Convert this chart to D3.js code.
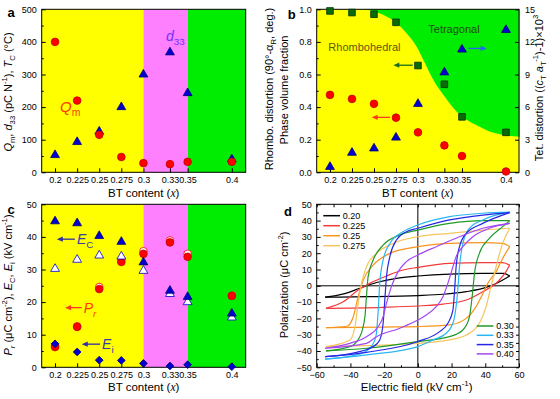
<!DOCTYPE html>
<html>
<head>
<meta charset="utf-8">
<script src="https://cdn.jsdelivr.net/npm/d3@7"></script>
<style>
  body { margin: 0; background: #fff; }
  text { font-family: "Liberation Sans", Arial, sans-serif; }
</style>
</head>
<body>
<script>
// composition axis (BT content)
const btContent = [0.2, 0.225, 0.25, 0.275, 0.3, 0.33, 0.35, 0.4];
const btTickLabels = ["0.2", "0.225", "0.25", "0.275", "0.3", "0.33", "0.35", "0.4"];
const phaseEdges = [0.3, 0.35];

// panel a
const qm = [400, 220, 115, 47, 28, 25, 32, 32];
const d33 = [53, 93, 125, 200, 300, 368, 243, 40];

// panel b
const rhomboFraction = [0.99, 0.98, 0.97, 0.92, 0.655, 0.54, 0.34, 0.245];
const rhomboDistortion = [0.475, 0.45, 0.42, 0.335, 0.245, 0.165, 0.10, 0.005];
const tetDistortion = [0.5, 1.8, 2.2, 3.2, 6.3, 9.2, 11.3, 13.1];
const phaseBoundary = [[0.236, 1.0], [0.25, 0.988], [0.261, 0.965], [0.276, 0.914], [0.287, 0.853],
  [0.2985, 0.771], [0.308, 0.669], [0.3175, 0.566], [0.329, 0.474], [0.344, 0.372],
  [0.359, 0.31], [0.37, 0.28], [0.384, 0.245], [0.393, 0.233], [0.4155, 0.218]];

// panel c
const ecPos = [44.8, 44.2, 40.3, 38.5, 32.2, 23.5, 21.6, 16.5];
const ecNeg = [30.2, 33.0, 34.3, 34.0, 29.6, 22.5, 20.0, 15.3];
const prFilled = [6.2, 12.4, 24.0, 32.3, 34.8, 38.3, 33.9, 21.9];
const prOpen = [6.6, 12.6, 24.6, 33.0, 35.6, 38.9, 34.8, 22.0];
const ei = [7.2, 4.7, 2.2, 2.1, 1.2, 0.4, 0.8, 0.2];

// panel d, P-E loops [E (kV/cm), P (uC/cm2)]
const upper020 = [[-55,-7],[-44,-5],[-34.4,-1.5],[-24.5,2],[-12.7,4.6],[0,6],[18.8,7.2],[38.5,7.6],[51,7.6],[54.5,6]];
const lower020 = [[-55,-7],[-30,-6.7],[0,-6],[15,-5.2],[28.7,-3.6],[40.5,-1],[47.4,1.9],[54.5,6]];
const upper0225 = [[-54.5,-13.8],[-44,-9.7],[-35.4,-2.6],[-28.5,1.5],[-18.6,6],[-8.8,9.7],[0,11.3],[18.8,13.8],[38.5,14.2],[50.3,14.2],[54.5,12.7]];
const lower0225 = [[-54.5,-13.8],[-20.6,-13.2],[0,-12.4],[15,-11.2],[28.7,-8.7],[38.5,-3.6],[47.4,2.5],[52.3,8.7],[54.5,12.7]];
const upper025 = [[-54.5,-25.7],[-42,-24.8],[-38.3,-19],[-35.4,-6.7],[-32.4,3.5],[-26.5,12.7],[-16.6,19.9],[0,24],[18.8,26],[38.5,26.5],[50.3,26],[54.5,24]];
const lower025 = [[-54.5,-25.7],[-20,-25.3],[0,-25],[18.8,-24],[28.7,-20],[35,-12],[38.5,-5],[41.5,1.5],[46.4,8.7],[50.3,16.8],[54.5,24]];
const upper0275 = [[-54.5,-37.3],[-40.3,-33.2],[-37.3,-25],[-35.4,-10.8],[-33.4,1.5],[-30.5,11.7],[-24.5,19.9],[-14.7,26],[0,30.1],[18.8,32.2],[38.5,34.2],[54.5,35.3]];
const lower0275 = [[-54.5,-37.3],[-30.5,-36.7],[0,-35.3],[18.8,-33.2],[28.7,-30.2],[36.5,-23],[40.5,-12.8],[43.4,-0.5],[46.4,11.7],[50.3,26],[54.5,35.3]];
const upper030 = [[-54.5,-39.9],[-40.3,-37.3],[-34.4,-31.2],[-31.4,-19],[-30.5,-6.7],[-29.5,5.6],[-26.5,15.8],[-20.6,25],[-10.7,31.2],[0,34.2],[18.8,38.3],[38.5,40],[54.5,40]];
const lower030 = [[-54.5,-39.9],[-30.5,-38.3],[0,-34.2],[18.8,-31.2],[26.7,-27.1],[30.6,-19],[32.2,-6.7],[33.6,7.6],[36.5,19.9],[42.4,29.1],[50.3,36.3],[54.5,40]];
const upper033 = [[-55,-45],[-36.4,-42.4],[-28.5,-38.3],[-24.9,-31.2],[-23.5,-14.9],[-22.6,1.5],[-20.6,15.8],[-16.6,26],[-8.8,33.2],[0,37.3],[18.8,42.4],[38.5,44.5],[54.5,45.2]];
const lower033 = [[-55,-45],[-30.5,-42.4],[0,-37.3],[9,-33.2],[16.8,-29.1],[20.8,-23],[22.4,-14.9],[23.7,-2.6],[24.7,11.7],[26.7,26],[30.6,35.3],[38.5,40.4],[54.5,45.2]];
const upper035 = [[-55,-43.5],[-36.4,-40.8],[-26.5,-37.3],[-22.6,-33.2],[-20.6,-23],[-19.6,-8.7],[-18.6,5.6],[-16.6,17.9],[-12.7,28.1],[-6.8,33.2],[0,35.3],[18.8,40.4],[38.5,43.4],[54.5,44.9]];
const lower035 = [[-55,-43.5],[-30.5,-40.8],[0,-34.2],[12.9,-28.1],[17.8,-23],[20.8,-14.9],[21.8,-2.6],[22.7,11.7],[24.7,24],[28.7,32.2],[38.5,38.3],[54.5,44.9]];
const upper040 = [[-55,-38.3],[-40.3,-35.3],[-30.5,-31.2],[-23.5,-25],[-20.6,-19],[-18.6,-10.8],[-15.7,-0.5],[-11.7,8.7],[-6.8,14.8],[0,18.9],[10.9,24],[24.7,30.1],[38.5,35.3],[54.5,38.3]];
const lower040 = [[-55,-38.3],[-30.5,-35.3],[-24.5,-31.2],[-10.7,-26],[0,-21],[5,-17.9],[10.9,-12.8],[14.9,-6.7],[17.8,1.5],[20.8,11.7],[22.7,17.9],[26.7,24],[32.6,30.1],[42.4,35.3],[54.5,38.3]];

const loopLabels = ["0.20", "0.225", "0.25", "0.275", "0.30", "0.33", "0.35", "0.40"];
const loopColors = ["#000000", "#f23a3a", "#f7941d", "#f5c55e", "#1f9a2a", "#2ab6f5", "#2626e6", "#a347f5"];
const loops = [
  [upper020, lower020], [upper0225, lower0225], [upper025, lower025], [upper0275, lower0275],
  [upper030, lower030], [upper033, lower033], [upper035, lower035], [upper040, lower040]
];

const yellow = "#ffff00", pink = "#ff80ff", green = "#00ec00";
const redFill = "#ff0000", blueFill = "#0000d0";

const svg = d3.select("body").append("svg").attr("width", 560).attr("height", 399);

const colL = [41.7, 245.7], colR = [316.7, 519];
const rowT = [172.3, 9.3], rowB = [367.3, 204.3];
const btDomain = [0.1849, 0.4157];

// text with sub/superscripts: kinds i=italic, b=sub, p=sup, s=serif
function rich(t, parts, fs) {
  let cur = 0;
  parts.forEach(([s, k = ""]) => {
    const off = k.includes("b") ? fs * 0.3 : k.includes("p") ? -fs * 0.42 : 0;
    const ts = t.append("tspan").text(s).attr("dy", off - cur);
    if (off !== 0) ts.attr("font-size", fs * 0.7);
    if (k.includes("i")) ts.attr("font-style", "italic");
    if (k.includes("s")) ts.attr("font-family", "'Liberation Serif', serif");
    cur = off;
  });
  return t;
}

function label(x, y, parts, fs, opts = {}) {
  const t = svg.append("text")
    .attr("font-size", fs)
    .attr("fill", opts.color || "#000")
    .attr("text-anchor", opts.anchor || "middle")
    .attr("transform", `translate(${x},${y})` + (opts.rotate ? ` rotate(${opts.rotate})` : ""));
  if (opts.bold) t.attr("font-weight", "bold");
  return rich(t, parts, fs);
}

function styleAxis(g) {
  g.select(".domain").remove();
  g.selectAll("text").attr("font-size", 9).attr("font-family", "'Liberation Sans', Arial, sans-serif");
  g.selectAll("line").attr("stroke", "#000");
}

function frame(g, x, y) {
  g.append("rect")
    .attr("x", x.range()[0]).attr("y", y.range()[1])
    .attr("width", x.range()[1] - x.range()[0])
    .attr("height", y.range()[0] - y.range()[1])
    .attr("fill", "none").attr("stroke", "#000").attr("stroke-width", 1);
}

function bands(g, x, y) {
  const edges = [btDomain[0], ...phaseEdges, btDomain[1]];
  const cols = [yellow, pink, green];
  g.selectAll(null).data(cols).enter().append("rect")
    .attr("x", (d, i) => x(edges[i]))
    .attr("width", (d, i) => x(edges[i + 1]) - x(edges[i]))
    .attr("y", y.range()[1])
    .attr("height", y.range()[0] - y.range()[1])
    .attr("fill", d => d);
}

function btAxis(g, x, y) {
  g.append("g").attr("transform", `translate(0,${y.range()[0]})`)
    .call(d3.axisBottom(x).tickValues(btContent).tickFormat((d, i) => btTickLabels[i])
      .tickSize(-4).tickPadding(4))
    .call(styleAxis);
}

function leftAxis(g, x, y, ticks, minor, fmt) {
  g.append("g").attr("transform", `translate(${x.range()[0]},0)`)
    .call(d3.axisLeft(y).tickValues(ticks).tickFormat(fmt).tickSize(-4).tickPadding(5))
    .call(styleAxis);
  g.append("g").attr("transform", `translate(${x.range()[0]},0)`)
    .call(d3.axisLeft(y).tickValues(minor).tickFormat("").tickSize(-2))
    .call(styleAxis);
}

const sym = (type, size) => d3.symbol().type(type).size(size)();

function markers(g, x, y, xs, ys, type, size, fill, stroke, rot = 0) {
  g.selectAll(null).data(xs).enter().append("path")
    .attr("d", sym(type, size))
    .attr("transform", (d, i) => `translate(${x(d)},${y(ys[i])}) rotate(${rot})`)
    .attr("fill", fill).attr("stroke", stroke).attr("stroke-width", 0.8);
}

function arrow(g, x1, x2, y, color) {
  const dir = Math.sign(x2 - x1);
  g.append("line").attr("x1", x1).attr("x2", x2 - dir * 4).attr("y1", y).attr("y2", y)
    .attr("stroke", color).attr("stroke-width", 1.3);
  g.append("path")
    .attr("d", `M${x2},${y}L${x2 - dir * 6},${y - 2.6}L${x2 - dir * 6},${y + 2.6}Z`)
    .attr("fill", color);
}

// ---------- panel a ----------
{
  const g = svg.append("g");
  const x = d3.scaleLinear().domain(btDomain).range(colL);
  const y = d3.scaleLinear().domain([0, 500]).range(rowT);
  bands(g, x, y);
  btAxis(g, x, y);
  leftAxis(g, x, y, d3.range(0, 501, 100), d3.range(50, 500, 100), d3.format("d"));
  frame(g, x, y);
  markers(g, x, y, btContent, d33, d3.symbolTriangle, 34, blueFill, "#00007a");
  markers(g, x, y, btContent, qm, d3.symbolCircle, 46, redFill, "#c00000");
  label(x(0.2057), y(201) + 5, [["Q", "i"], ["m", "b"]], 15, { color: "#ff3a00", anchor: "start" });
  label(x(0.3254), y(419) + 5, [["d", "i"], ["33", "b"]], 14, { color: "#6a32ff", anchor: "start" });
  label(11, 17, [["a"]], 13, { bold: true });
  label(12, 92, [["Q", "i"], ["m", "b"], [", "], ["d", "i"], ["33", "b"], [" (pC N"], ["-1", "p"], ["), "],
    ["T", "i"], ["C", "b"], [" (°C)"]], 11, { rotate: -90 }).attr("dy", "0.35em");
}

// ---------- panel b ----------
{
  const g = svg.append("g");
  const x = d3.scaleLinear().domain([0.1849, 0.4148]).range(colR);
  const y = d3.scaleLinear().domain([0, 1]).range(rowT);
  const yR = d3.scaleLinear().domain([0, 15]).range(rowT);
  g.append("rect").attr("x", colR[0]).attr("y", rowT[1])
    .attr("width", colR[1] - colR[0]).attr("height", rowT[0] - rowT[1]).attr("fill", yellow);
  g.append("path").datum(phaseBoundary)
    .attr("d", d3.area().x(d => x(d[0])).y0(y(1)).y1(d => y(d[1])).curve(d3.curveMonotoneX))
    .attr("fill", green);
  btAxis(g, x, y);
  leftAxis(g, x, y, d3.range(0, 1.01, 0.2), d3.range(0.1, 1, 0.2), d3.format(".1f"));
  g.append("g").attr("transform", `translate(${colR[1]},0)`)
    .call(d3.axisRight(yR).tickValues(d3.range(0, 16, 3)).tickSize(-4).tickPadding(6))
    .call(styleAxis);
  frame(g, x, y);
  markers(g, x, y, btContent, rhomboFraction, d3.symbolSquare, 44, "#0a6b0a", "#003300");
  markers(g, x, y, btContent, rhomboDistortion, d3.symbolCircle, 46, redFill, "#c00000");
  markers(g, x, yR, btContent, tetDistortion, d3.symbolTriangle, 34, blueFill, "#00007a");
  arrow(g, x(0.294), x(0.272), y(0.657), "#1a6e1a");
  arrow(g, x(0.2682), x(0.2474), y(0.337), "#ff3a1a");
  arrow(g, x(0.3575), x(0.378), y(0.76), "#2a62ff");
  label(x(0.1981), y(0.77) + 4, [["Rhombohedral"]], 11, { color: "#5e5a08", anchor: "start" });
  label(x(0.3117), y(0.877) + 4, [["Tetragonal"]], 11, { color: "#1d4d1d", anchor: "start" });
  label(291.7, 19, [["b"]], 13, { bold: true });
  label(273, 89, [["Rhombo. distortion (90°-α"], ["R", "b"], [", deg.)"]], 11, { rotate: -90 }).attr("dy", "0.35em");
  label(288, 90, [["Phase volume fraction"]], 11, { rotate: -90 }).attr("dy", "0.35em");
  label(543, 88, [["Tet. distortion (("], ["c", "i"], ["T", "b"], [" "], ["a", "i"], ["T", "b"], ["-1", "p"],
    [")-1)×10"], ["3", "p"]], 11, { rotate: -90 }).attr("dy", "0.35em");
}

// ---------- panel c ----------
{
  const g = svg.append("g");
  const x = d3.scaleLinear().domain(btDomain).range(colL);
  const y = d3.scaleLinear().domain([0, 50]).range(rowB);
  bands(g, x, y);
  btAxis(g, x, y);
  leftAxis(g, x, y, d3.range(0, 51, 10), d3.range(5, 50, 10), d3.format("d"));
  frame(g, x, y);
  markers(g, x, y, btContent, prOpen, d3.symbolCircle, 46, "#fff", redFill);
  markers(g, x, y, btContent, prFilled, d3.symbolCircle, 46, redFill, "#c00000");
  markers(g, x, y, btContent, ecNeg, d3.symbolTriangle, 34, "#fff", blueFill);
  markers(g, x, y, btContent, ecPos, d3.symbolTriangle, 34, blueFill, "#00007a");
  markers(g, x, y, btContent, ei, d3.symbolSquare, 30, blueFill, "#00007a", 45);
  arrow(g, x(0.2224), x(0.202), y(39.3), "#2e2ea8");
  arrow(g, x(0.2302), x(0.2113), y(18.3), "#ff3a1a");
  arrow(g, x(0.2509), x(0.2302), y(7.1), "#2e2ea8");
  label(x(0.2248), y(39.3) + 5, [["E", "i"], ["C", "b"]], 14, { color: "#3b3ba6", anchor: "start" });
  label(x(0.2325), y(18.3) + 5, [["P", "i"], ["r", "bi"]], 14, { color: "#ff3a00", anchor: "start" });
  label(x(0.2532), y(7.1) + 5, [["E", "i"], ["i", "b"]], 14, { color: "#3b3ba6", anchor: "start" });
  label(11, 214, [["c"]], 13, { bold: true });
  label(12, 285, [["P", "i"], ["r", "bi"], [" (μC cm"], ["-2", "p"], ["), "], ["E", "i"], ["C", "b"], [", "],
    ["E", "i"], ["i", "b"], [" (kV cm"], ["-1", "p"], [")"]], 11, { rotate: -90 }).attr("dy", "0.35em");
}

// x titles for a, b, c
[[143.7, 193], [417.8, 193], [143.7, 387]].forEach(([cx, cy]) =>
  label(cx, cy + 4, [["BT content ("], ["x", "is"], [")"]], 11.5));

// ---------- panel d ----------
{
  const g = svg.append("g");
  const x = d3.scaleLinear().domain([-60, 60]).range(colR);
  const y = d3.scaleLinear().domain([-50, 50]).range(rowB);
  g.append("g").attr("transform", `translate(0,${rowB[0]})`)
    .call(d3.axisBottom(x).tickValues(d3.range(-60, 61, 20)).tickSize(-4).tickPadding(4)).call(styleAxis);
  g.append("g").attr("transform", `translate(0,${rowB[0]})`)
    .call(d3.axisBottom(x).tickValues(d3.range(-50, 60, 20)).tickFormat("").tickSize(-2)).call(styleAxis);
  g.append("g").attr("transform", `translate(0,${rowB[1]})`)
    .call(d3.axisTop(x).tickValues(d3.range(-60, 61, 10)).tickFormat("").tickSize(-3)).call(styleAxis);
  leftAxis(g, x, y, d3.range(-50, 51, 10), d3.range(-45, 50, 10), d3.format("d"));
  g.append("g").attr("transform", `translate(${colR[1]},0)`)
    .call(d3.axisRight(y).tickValues(d3.range(-50, 51, 5)).tickFormat("").tickSize(-3)).call(styleAxis);
  g.append("line").attr("x1", x(0)).attr("x2", x(0)).attr("y1", rowB[1]).attr("y2", rowB[0]).attr("stroke", "#000");
  g.append("line").attr("x1", colR[0]).attr("x2", colR[1]).attr("y1", y(0)).attr("y2", y(0)).attr("stroke", "#000");
  frame(g, x, y);

  const line = d3.line().x(d => x(d[0])).y(d => y(d[1])).curve(d3.curveMonotoneX);
  loops.forEach((branches, i) => {
    branches.forEach(b => g.append("path").attr("d", line(b))
      .attr("fill", "none").attr("stroke", loopColors[i]).attr("stroke-width", 1.2));
  });

  // legends
  const legTop = [215.7, 225.7, 235.7, 245.7], legBot = [326, 335.3, 344.6, 353.9];
  loopLabels.forEach((lab, i) => {
    const top = i < 4;
    const ly = top ? legTop[i] : legBot[i - 4];
    const lx = top ? 323.3 : 476.7;
    g.append("line").attr("x1", lx).attr("x2", lx + 16.7).attr("y1", ly).attr("y2", ly)
      .attr("stroke", loopColors[i]).attr("stroke-width", 1.5);
    g.append("text").attr("x", lx + 19.5).attr("y", ly).attr("dy", "0.35em")
      .attr("font-size", 9).text(lab);
  });

  label(288, 216, [["d"]], 13, { bold: true });
  label(288, 285, [["Polarization (μC cm"], ["-2", "p"], [")"]], 11, { rotate: -90 }).attr("dy", "0.35em");
  label(416.7, 391, [["Electric field (kV cm"], ["-1", "p"], [")"]], 11.5);
}
</script>
</body>
</html>
